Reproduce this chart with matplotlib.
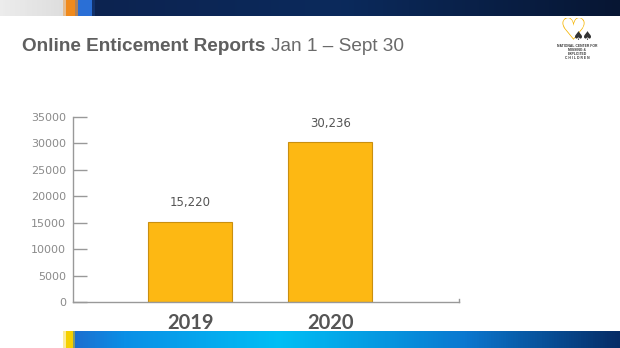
import numpy as np
import matplotlib
matplotlib.use("Agg")
import matplotlib.pyplot as plt
from matplotlib.colors import LinearSegmentedColormap

years = ["2019", "2020"]
reports = [15220, 30236]
value_labels = ["15,220", "30,236"]
yticks = [0, 5000, 10000, 15000, 20000, 25000, 30000, 35000]

plt.rcParams['font.family'] = ['Liberation Sans', 'DejaVu Sans']

W, H = 620, 348
fig = plt.figure(figsize=(W / 100, H / 100), dpi=100)
fig.patch.set_facecolor("white")

# top band of the broadcast frame
top = fig.add_axes([0, 1 - 16 / H, 1, 16 / H])
top_cmap = LinearSegmentedColormap.from_list(
    "top", [(0, "#ececec"), (0.10, "#dedede"), (0.105, "#f08a1c"), (0.12, "#f08a1c"),
            (0.125, "#2a6fd6"), (0.145, "#2a6fd6"), (0.15, "#0d2350"),
            (0.55, "#0b2a5c"), (1, "#071633")])
top.imshow(np.linspace(0, 1, W)[None, :], aspect="auto", cmap=top_cmap, extent=[0, 1, 0, 1])
top.axis("off")

# bottom band
bot = fig.add_axes([0, 0, 1, 17 / H])
bot_cmap = LinearSegmentedColormap.from_list(
    "bot", [(0, "#ffffff"), (0.10, "#ffffff"), (0.105, "#f5d000"), (0.115, "#f5d000"),
            (0.12, "#1d6fd0"), (0.2, "#0a8fe6"), (0.45, "#00bff5"),
            (0.75, "#0a78d0"), (1, "#062c66")])
bot.imshow(np.linspace(0, 1, W)[None, :], aspect="auto", cmap=bot_cmap, extent=[0, 1, 0, 1])
bot.axis("off")

# title - sized to the width in the reference
renderer = fig.canvas.get_renderer()
t1 = fig.text(22 / W, 1 - 51 / H, "Online Enticement Reports", fontsize=12,
              fontweight="bold", color="#5f5f5f", va="baseline", ha="left")
w1 = t1.get_window_extent(renderer).width
t1.set_fontsize(12 * 243 / w1)
w1 = t1.get_window_extent(renderer).width
t2 = fig.text((22 + w1 + 6) / W, 1 - 51 / H, "Jan 1 \u2013 Sept 30", fontsize=t1.get_fontsize(),
              color="#6a6a6a", va="baseline", ha="left")

# small logo approximation (heart + kids drawn as markers)
logo = fig.add_axes([560 / W, 1 - 42 / H, 36 / W, 24 / H])
logo.set_xlim(0, 1)
logo.set_ylim(0, 1)
logo.axis("off")
logo.scatter([0.35], [0.6], marker=r"$\heartsuit$", s=260, color="#f5b400", linewidths=0)
logo.scatter([0.5, 0.75], [0.3, 0.3], marker=r"$\spadesuit$", s=40, color="#333333", linewidths=0)
fig.text(577 / W, 1 - 52 / H, "NATIONAL CENTER FOR\nMISSING &\nEXPLOITED\nC H I L D R E N",
         fontsize=2.4, color="#333333", ha="center", va="center", fontweight="bold",
         linespacing=1.0)

ax = fig.add_axes([73 / W, 1 - 302 / H, (459 - 73) / W, (302 - 117) / H])
x = np.arange(len(years))
ax.bar(x, reports, width=0.6, color="#fdb813", edgecolor="#c98f10", linewidth=0.8, zorder=2)
ax.set_xlim(-0.836, 1.92)
ax.set_ylim(0, 35000)
ax.set_yticks(yticks)
ax.set_yticklabels([str(v) for v in yticks], family="DejaVu Sans")
ax.set_xticks(x)
ax.set_xticklabels(years, family="Lato")
ax.tick_params(axis="y", direction="in", length=10, width=1, color="#999999",
               labelcolor="#8a8a8a", labelsize=8, pad=5)
ax.tick_params(axis="x", length=0, labelsize=14.5, labelcolor="#555555", pad=8)
for lab in ax.get_xticklabels():
    lab.set_fontweight("bold")
for side in ["top", "right"]:
    ax.spines[side].set_visible(False)
for side in ["left", "bottom"]:
    ax.spines[side].set_color("#999999")
    ax.spines[side].set_linewidth(1)
ax.plot([1, 1], [0, 0.015], transform=ax.transAxes, color="#999999", lw=1, clip_on=False)

for xi, v, t in zip(x, reports, value_labels):
    ax.annotate(t, (xi, v), xytext=(0, 9), textcoords="offset points", ha="center",
                va="bottom", fontsize=8.5, color="#555555", family="DejaVu Sans")

fig.savefig("out.png", dpi=100)
